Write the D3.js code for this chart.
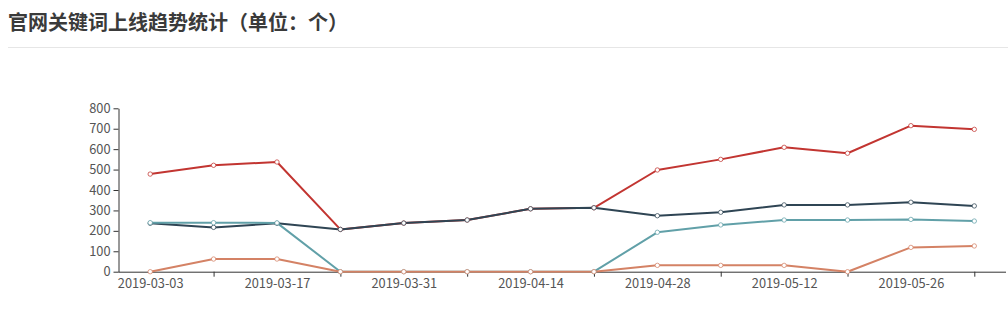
<!DOCTYPE html>
<html><head><meta charset="utf-8">
<script src="https://cdn.jsdelivr.net/npm/d3@7"></script>
<style>
html,body{margin:0;padding:0;background:#fff;}
svg{display:block;}
</style></head>
<body><svg id="c" width="1008" height="328"></svg>
<script>
const title = "官网关键词上线趋势统计（单位：个）";
const dates = ["2019-03-03","2019-03-10","2019-03-17","2019-03-24","2019-03-31","2019-04-07","2019-04-14","2019-04-21","2019-04-28","2019-05-05","2019-05-12","2019-05-19","2019-05-26","2019-06-02"];
const yTicks = [0,100,200,300,400,500,600,700,800];
const seriesRed    = [478,521,537,207,238,253,308,313,498,550,609,580,715,697];
const seriesDark   = [237,217,237,207,238,253,308,313,274,291,327,327,340,322];
const seriesTeal   = [240,240,239,0,0,0,0,0,193,229,253,253,256,248];
const seriesOrange = [0,62,62,0,0,0,0,0,31,31,31,0,119,126];
const seriesList = [
  {values: seriesRed, color: "#c23531"},
  {values: seriesDark, color: "#2f4554"},
  {values: seriesTeal, color: "#61a0a8"},
  {values: seriesOrange, color: "#d48265"}
];

const svg = d3.select("#c");
const font = "'Noto Sans CJK SC', 'Microsoft YaHei', sans-serif";

svg.append("text").attr("x", 8).attr("y", 30)
  .attr("font-family", font).attr("font-size", 20).attr("font-weight", "bold")
  .attr("fill", "#3a3a3a").text(title);
svg.append("line").attr("x1", 8).attr("x2", 1008).attr("y1", 47.5).attr("y2", 47.5)
  .attr("stroke", "#e6e6e6").attr("stroke-width", 1);

const x = d3.scalePoint().domain(dates).range([118.5, 1006]).padding(0.5);
const y = d3.scaleLinear().domain([0, 800]).range([271.7, 108.3]);

// y axis
const yAxis = svg.append("g").attr("transform", "translate(118.5,0)")
  .call(d3.axisLeft(y).tickValues(yTicks).tickSize(5).tickSizeOuter(0).tickPadding(3));
yAxis.select(".domain").attr("stroke", "#333");
yAxis.selectAll(".tick line").attr("stroke", "#333");
yAxis.selectAll("text").attr("font-family", font).attr("font-size", 12.8).attr("fill", "#555");

// x axis labels (even indices) and ticks (odd indices)
const evenDates = dates.filter((d, i) => i % 2 === 0);
const oddDates = dates.filter((d, i) => i % 2 === 1);
const xAxisTicks = svg.append("g").attr("transform", "translate(0,271.7)")
  .call(d3.axisBottom(x).tickValues(oddDates).tickSize(5).tickSizeOuter(0).tickFormat(""));
xAxisTicks.select(".domain").remove();
xAxisTicks.selectAll(".tick line").attr("stroke", "#333");
const xAxis = svg.append("g").attr("transform", "translate(0,271.7)")
  .call(d3.axisBottom(x).tickValues(evenDates).tickSize(0).tickSizeOuter(0).tickPadding(7));
xAxis.select(".domain").attr("stroke", "#333").attr("d", "M118.5,0.5H1006");
xAxis.selectAll("text").attr("font-family", font).attr("font-size", 12.8).attr("fill", "#555");

const line = d3.line().x((d, i) => x(dates[i])).y(d => y(d));
seriesList.forEach(s => {
  svg.append("path").datum(s.values).attr("d", line)
    .attr("fill", "none").attr("stroke", s.color).attr("stroke-width", 2)
    .attr("stroke-linejoin", "round");
});
seriesList.forEach(s => {
  svg.append("g").selectAll("circle").data(s.values).join("circle")
    .attr("cx", (d, i) => x(dates[i])).attr("cy", d => y(d)).attr("r", 2.2)
    .attr("fill", "#fff").attr("stroke", s.color).attr("stroke-opacity", 0.75).attr("stroke-width", 1);
});
</script></body></html>
